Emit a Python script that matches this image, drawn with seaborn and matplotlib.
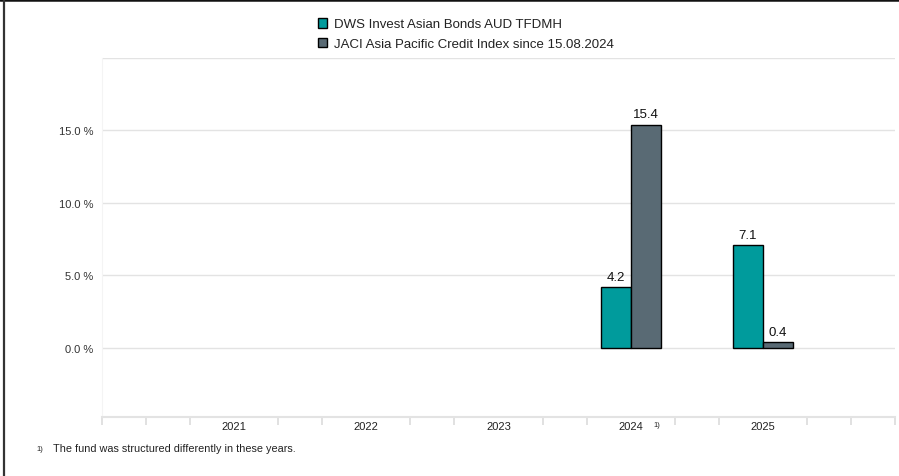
import numpy as np
import pandas as pd
import seaborn as sns
from matplotlib import pyplot as plt
from matplotlib.lines import Line2D
from matplotlib.ticker import FixedLocator

years = ['2021', '2022', '2023', '2024', '2025']
fund_name = 'DWS Invest Asian Bonds AUD TFDMH'
bench_name = 'JACI Asia Pacific Credit Index since 15.08.2024'
fund_values = [np.nan, np.nan, np.nan, 4.2, 7.1]
bench_values = [np.nan, np.nan, np.nan, 15.4, 0.4]
ytick_values = [0, 5, 10, 15, 20]
footnote = 'The fund was structured differently in these years.'

teal = '#009b9c'
slate = '#596a74'
grid_col = '#e3e3e3'
text_col = '#222222'

df = pd.DataFrame({
    'year': years * 2,
    'series': [fund_name] * len(years) + [bench_name] * len(years),
    'value': fund_values + bench_values,
})

sns.set_style('white')
plt.rcParams['font.family'] = ['Liberation Sans', 'DejaVu Sans']

fig = plt.figure(figsize=(8.99, 4.77), dpi=100)
ax = fig.add_axes([0.1135, 0.1237, 0.882, 0.7526])

sns.barplot(data=df, x='year', y='value', hue='series', order=years,
            hue_order=[fund_name, bench_name], palette=[teal, slate],
            width=0.452, gap=0, edgecolor='black', linewidth=1,
            saturation=1, ax=ax)

for cont in ax.containers:
    ax.bar_label(cont, fmt='%.1f', padding=3, fontsize=9.5, color='#111111')

ax.set_xlim(-1, 5)
ax.set_ylim(-4.8, 20)
ax.set_yticks(ytick_values)
ax.set_yticklabels(['%.1f %%' % v if v < 20 else '' for v in ytick_values])
ax.yaxis.grid(True, color=grid_col, linewidth=1)
ax.set_axisbelow(True)
ax.tick_params(axis='y', length=0, pad=6, labelsize=8, labelcolor='#333333')
ax.tick_params(axis='x', which='major', length=0, pad=3, labelsize=8, labelcolor=text_col)
minor = [k / 3 - 1 for k in range(19) if k % 3 != 0 or k in (0, 18)]
ax.xaxis.set_minor_locator(FixedLocator(minor))
ax.tick_params(axis='x', which='minor', bottom=True, length=6, color='#dcdcdc', width=1.2)
ax.set_xlabel('')
ax.set_ylabel('')

for side in ['top', 'right']:
    ax.spines[side].set_visible(False)
ax.spines['bottom'].set_color(grid_col)
ax.spines['bottom'].set_linewidth(1.5)
ax.spines['left'].set_color('#f4f4f4')

ax.text(3.17, -0.022, '1)', transform=ax.get_xaxis_transform(), fontsize=5.5,
        color=text_col, ha='left', va='center')

handles, labels = ax.get_legend_handles_labels()
ax.legend(handles, labels, loc='upper left', bbox_to_anchor=(0.34, 0.985),
          bbox_transform=fig.transFigure, frameon=False, fontsize=9.5,
          handlelength=0.75, handleheight=0.75, handletextpad=0.5,
          labelspacing=0.55, labelcolor=text_col)

fig.text(0.041, 0.058, '1)', fontsize=5.5, color=text_col, va='center')
fig.text(0.059, 0.058, footnote, fontsize=7.8, color=text_col, va='center')

# page frame on the top and left edge
fig.add_artist(Line2D([0, 1], [0.997, 0.997], transform=fig.transFigure,
                      color='#111111', linewidth=1.8))
fig.add_artist(Line2D([0.005, 0.005], [0, 1], transform=fig.transFigure,
                      color='#333333', linewidth=1.6))

fig.savefig('out.png', dpi=100)
